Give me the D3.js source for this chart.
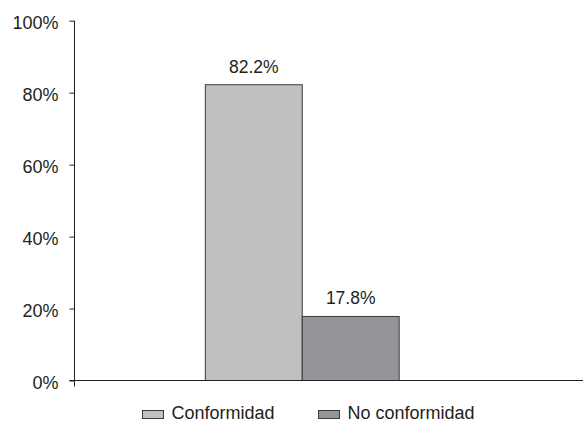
<!DOCTYPE html>
<html>
<head>
<meta charset="utf-8">
<script src="https://cdn.jsdelivr.net/npm/d3@7"></script>
<style>
  html, body { margin: 0; padding: 0; background: #fff; }
  svg text { font-family: "Liberation Sans", Arial, sans-serif; fill: #231f20; }
</style>
</head>
<body>
<svg id="chart" width="583" height="423"></svg>
<script>
// Series and tick values
const seriesNames = ["Conformidad", "No conformidad"];
const seriesValues = [82.2, 17.8];
const seriesColors = ["#c0c0c0", "#939598"];
const groups = [""];
const yTicks = [0, 20, 40, 60, 80, 100];

const svg = d3.select("#chart");
const axisX = 74.5;
const plotRight = 530;
const yTop = 20.7, yBottom = 380.5;

const y = d3.scaleLinear().domain([0, 100]).range([yBottom, yTop]);
const x0 = d3.scaleBand().domain(groups).range([axisX, plotRight]).paddingOuter(0.675).paddingInner(0);
const x1 = d3.scaleBand().domain(seriesNames).range([0, x0.bandwidth()]);

// Bars
const g = svg.append("g");
groups.forEach(grp => {
  g.selectAll("rect.bar")
    .data(seriesNames.map((n, i) => ({ name: n, value: seriesValues[i], color: seriesColors[i] })))
    .join("rect")
    .attr("class", "bar")
    .attr("x", d => x0(grp) + x1(d.name))
    .attr("width", x1.bandwidth())
    .attr("y", d => y(d.value))
    .attr("height", d => y(0) - y(d.value))
    .attr("fill", d => d.color)
    .attr("stroke", "#3a3a3a")
    .attr("stroke-width", 1);

  // Value labels
  g.selectAll("text.val")
    .data(seriesNames.map((n, i) => ({ name: n, value: seriesValues[i] })))
    .join("text")
    .attr("class", "val")
    .attr("x", d => x0(grp) + x1(d.name) + x1.bandwidth() / 2)
    .attr("y", d => y(d.value) - 12)
    .attr("text-anchor", "middle")
    .style("font-size", "17.5px")
    .text(d => d.value.toFixed(1) + "%");
});

// Y axis
const yAxis = d3.axisLeft(y).tickValues(yTicks).tickSize(5).tickPadding(11)
  .tickFormat(d => d + "%");
const ya = svg.append("g").attr("transform", `translate(${axisX},0)`).call(yAxis);
ya.select(".domain").remove();
ya.selectAll(".tick line").attr("stroke", "#231f20");
ya.selectAll(".tick text").style("font-size", "18px").attr("fill", "#231f20").attr("dy", "0.42em");
ya.append("line").attr("x1", 0).attr("x2", 0).attr("y1", yTop).attr("y2", yBottom + 6)
  .attr("stroke", "#231f20");

// X axis baseline
svg.append("line").attr("x1", axisX - 5).attr("x2", 583).attr("y1", y(0)).attr("y2", y(0))
  .attr("stroke", "#231f20");

// Legend
const legendX = [142, 318];
const legend = svg.append("g");
seriesNames.forEach((n, i) => {
  legend.append("rect")
    .attr("x", legendX[i] + 0.5).attr("y", 410.5)
    .attr("width", 21).attr("height", 8)
    .attr("fill", seriesColors[i]).attr("stroke", "#3a3a3a");
  legend.append("text")
    .attr("x", legendX[i] + 29.5).attr("y", 418.5)
    .style("font-size", "18px")
    .text(n);
});
</script>
</body>
</html>
